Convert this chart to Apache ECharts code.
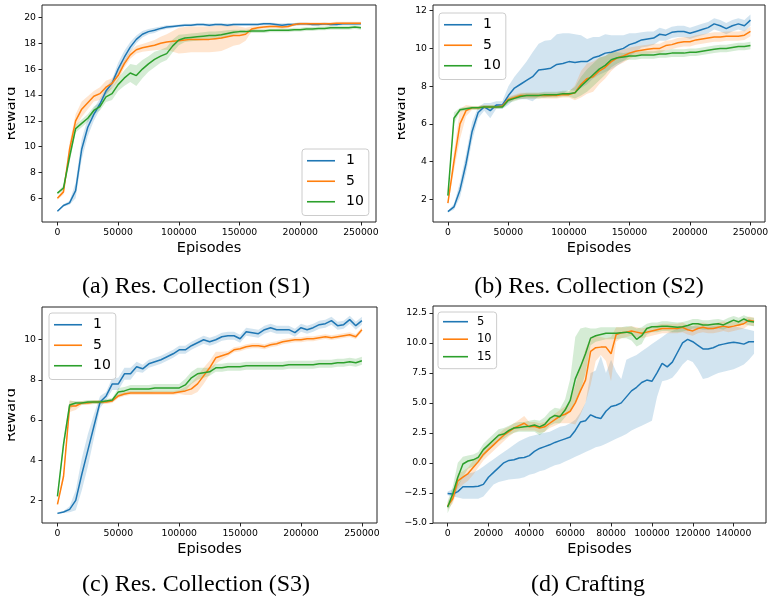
<!DOCTYPE html>
<html><head><meta charset="utf-8">
<script src="https://cdn.jsdelivr.net/npm/echarts@6.0.0/dist/echarts.min.js"></script>
<style>
html,body{margin:0;padding:0;background:#fff;width:769px;height:598px;overflow:hidden;}
.p{position:absolute;}
</style></head><body>
<div id="pa" class="p" style="left:0;top:0;width:385px;height:300px"></div>
<div id="pb" class="p" style="left:385px;top:0;width:384px;height:300px"></div>
<div id="pc" class="p" style="left:0;top:300px;width:385px;height:298px"></div>
<div id="pd" class="p" style="left:385px;top:300px;width:384px;height:298px"></div>
<script>
// ---------- episodes sampled ----------
const EP_ABC = [0,5000,10000,15000,20000,25000,30000,35000,40000,45000,50000,55000,60000,65000,70000,75000,80000,85000,90000,95000,100000,105000,110000,115000,120000,125000,130000,135000,140000,145000,150000,155000,160000,165000,170000,175000,180000,185000,190000,195000,200000,205000,210000,215000,220000,225000,230000,235000,240000,245000,250000];
const EP_D = [0,2500,5000,7500,10000,12500,15000,17500,20000,22500,25000,27500,30000,32500,35000,37500,40000,42500,45000,47500,50000,52500,55000,57500,60000,62500,65000,67500,70000,72500,75000,77500,80000,82500,85000,87500,90000,92500,95000,97500,100000,102500,105000,107500,110000,112500,115000,117500,120000,122500,125000,127500,130000,132500,135000,137500,140000,142500,145000,147500,150000];

// ---------- tick values / labels ----------
const XTICKS_ABC = [0,50000,100000,150000,200000,250000];
const XTICK_LABELS_ABC = ['0','50000','100000','150000','200000','250000'];
const XTICKS_D = [0,20000,40000,60000,80000,100000,120000,140000];
const XTICK_LABELS_D = ['0','20000','40000','60000','80000','100000','120000','140000'];
const YTICKS_A = [6,8,10,12,14,16,18,20];
const YTICK_LABELS_A = ['6','8','10','12','14','16','18','20'];
const YTICKS_B = [2,4,6,8,10,12];
const YTICK_LABELS_B = ['2','4','6','8','10','12'];
const YTICKS_C = [2,4,6,8,10];
const YTICK_LABELS_C = ['2','4','6','8','10'];
const YTICKS_D = [-5,-2.5,0,2.5,5,7.5,10,12.5];
const YTICK_LABELS_D = ['\u22125.0','\u22122.5','0.0','2.5','5.0','7.5','10.0','12.5'];

// ---------- legend names ----------
const NAMES_ABC = ['1','5','10'];
const NAMES_D = ['5','10','15'];
const CAPTIONS = ['(a) Res. Collection (S1)','(b) Res. Collection (S2)','(c) Res. Collection (S3)','(d) Crafting'];

// ---------- panel (a) ----------
const A1_MEAN = [5.0,5.45,5.65,6.6,9.8,11.5,12.5,13.3,14.3,14.9,16.0,16.9,17.7,18.3,18.7,18.9,19.0,19.15,19.25,19.3,19.35,19.4,19.4,19.45,19.45,19.4,19.45,19.45,19.4,19.45,19.45,19.45,19.45,19.45,19.5,19.5,19.45,19.4,19.45,19.45,19.5,19.5,19.45,19.45,19.5,19.45,19.45,19.5,19.5,19.5,19.5];
const A1_SPREAD = [0.05,0.1,0.15,0.6,0.8,0.7,0.5,0.4,0.3,0.3,0.5,0.5,0.4,0.3,0.25,0.2,0.2,0.15,0.15,0.12,0.1,0.1,0.1,0.1,0.1,0.12,0.1,0.1,0.12,0.1,0.1,0.1,0.1,0.1,0.1,0.1,0.12,0.15,0.12,0.1,0.1,0.1,0.1,0.1,0.1,0.1,0.1,0.1,0.1,0.1,0.1];
const A5_MEAN = [6.0,6.5,9.8,12.0,12.9,13.4,13.9,14.1,14.6,14.9,15.5,16.4,17.1,17.5,17.65,17.75,17.85,18.0,18.1,18.15,18.2,18.25,18.3,18.3,18.3,18.3,18.35,18.4,18.5,18.6,18.6,18.7,19.1,19.2,19.25,19.3,19.3,19.25,19.3,19.45,19.5,19.5,19.5,19.5,19.5,19.5,19.55,19.55,19.55,19.55,19.55];
const A5_SPREAD = [0.1,0.2,0.5,0.5,0.6,0.5,0.4,0.5,0.5,0.4,0.4,0.3,0.3,0.3,0.3,0.35,0.4,0.5,0.6,0.8,1.0,1.0,1.0,1.0,1.0,1.0,1.0,1.0,0.9,0.8,0.7,0.5,0.2,0.12,0.12,0.12,0.12,0.12,0.12,0.12,0.12,0.12,0.12,0.12,0.12,0.12,0.12,0.12,0.12,0.12,0.12];
const A10_MEAN = [6.4,6.8,9.2,11.4,11.8,12.2,12.8,13.1,13.85,14.1,14.8,15.3,15.7,15.5,16.0,16.4,16.75,17.0,17.2,17.8,18.25,18.4,18.45,18.5,18.55,18.6,18.6,18.65,18.75,18.85,18.9,18.9,18.95,18.95,18.95,19.0,19.0,19.0,19.0,19.05,19.05,19.1,19.1,19.15,19.15,19.2,19.2,19.2,19.2,19.25,19.2];
const A10_SPREAD = [0.1,0.2,0.4,0.3,0.3,0.3,0.3,0.3,0.4,0.5,0.5,0.6,0.7,0.8,0.7,0.6,0.6,0.5,0.5,0.5,0.4,0.3,0.3,0.3,0.3,0.3,0.3,0.3,0.25,0.2,0.15,0.15,0.15,0.15,0.15,0.15,0.15,0.15,0.15,0.15,0.15,0.15,0.15,0.15,0.15,0.15,0.15,0.15,0.15,0.15,0.15];

// ---------- panel (b) ----------
const B1_MEAN = [1.35,1.6,2.5,3.9,5.6,6.6,6.9,6.7,7.0,7.0,7.5,7.9,8.1,8.3,8.5,8.85,8.9,8.95,9.15,9.2,9.3,9.25,9.3,9.3,9.5,9.6,9.75,9.8,9.9,10.0,10.2,10.3,10.45,10.5,10.55,10.75,10.7,10.85,10.9,10.9,10.8,10.9,11.0,11.1,11.3,11.2,11.05,11.2,11.3,11.2,11.5];
const B1_SPREAD = [0.05,0.15,0.4,0.5,0.5,0.3,0.2,0.4,0.2,0.2,0.5,0.6,0.8,1.0,1.3,1.4,1.5,1.5,1.6,1.6,1.5,1.5,1.4,1.2,1.1,1.0,1.0,0.9,0.8,0.7,0.6,0.5,0.4,0.4,0.35,0.35,0.3,0.3,0.3,0.3,0.3,0.3,0.3,0.3,0.3,0.3,0.3,0.3,0.3,0.3,0.3];
const B5_MEAN = [1.8,4.0,6.0,6.7,6.85,6.85,6.9,6.9,6.9,6.95,7.3,7.4,7.5,7.5,7.5,7.5,7.5,7.5,7.5,7.55,7.55,7.65,8.1,8.4,8.5,8.8,9.0,9.3,9.5,9.6,9.75,9.85,9.9,9.95,10.0,10.0,10.15,10.2,10.3,10.35,10.35,10.45,10.5,10.55,10.6,10.6,10.65,10.65,10.65,10.7,10.9];
const B5_SPREAD = [0.05,0.5,0.8,0.3,0.1,0.1,0.1,0.1,0.1,0.1,0.15,0.15,0.15,0.15,0.15,0.15,0.15,0.15,0.15,0.15,0.15,0.4,0.7,0.8,0.8,0.7,0.6,0.5,0.4,0.35,0.3,0.25,0.25,0.25,0.25,0.25,0.25,0.25,0.25,0.25,0.25,0.25,0.25,0.25,0.25,0.25,0.25,0.25,0.25,0.25,0.25];
const B10_MEAN = [2.2,6.3,6.75,6.8,6.85,6.85,6.9,6.9,6.9,6.9,7.25,7.35,7.45,7.5,7.5,7.5,7.55,7.55,7.55,7.6,7.6,7.65,8.0,8.3,8.6,8.9,9.1,9.4,9.5,9.55,9.6,9.6,9.65,9.65,9.65,9.7,9.7,9.75,9.75,9.75,9.8,9.8,9.85,9.9,9.95,10.0,10.0,10.05,10.1,10.1,10.15];
const B10_SPREAD = [0.05,0.3,0.1,0.1,0.1,0.1,0.1,0.1,0.1,0.1,0.15,0.15,0.15,0.15,0.15,0.15,0.15,0.15,0.15,0.15,0.15,0.3,0.5,0.6,0.6,0.6,0.5,0.4,0.3,0.2,0.2,0.2,0.2,0.2,0.2,0.2,0.2,0.2,0.2,0.2,0.2,0.2,0.2,0.2,0.2,0.2,0.2,0.2,0.2,0.2,0.2];

// ---------- panel (c) ----------
const C1_MEAN = [1.35,1.42,1.55,2.0,3.3,4.5,5.7,6.9,7.2,7.8,7.8,8.3,8.3,8.65,8.55,8.8,8.9,9.0,9.15,9.3,9.5,9.5,9.7,9.85,10.0,9.9,10.0,10.15,10.2,10.2,10.05,10.4,10.35,10.3,10.5,10.6,10.5,10.5,10.5,10.35,10.6,10.5,10.6,10.75,10.8,10.95,10.7,10.75,11.0,10.7,10.95];
const C1_SPREAD = [0.05,0.05,0.15,0.5,0.8,0.8,0.6,0.3,0.2,0.3,0.3,0.3,0.3,0.25,0.2,0.2,0.2,0.2,0.2,0.2,0.2,0.2,0.2,0.2,0.2,0.2,0.2,0.2,0.2,0.2,0.2,0.2,0.2,0.2,0.2,0.2,0.2,0.2,0.2,0.2,0.2,0.2,0.2,0.2,0.2,0.2,0.2,0.2,0.2,0.2,0.2];
const C5_MEAN = [1.8,3.2,6.7,6.7,6.85,6.85,6.9,6.9,6.9,6.95,7.2,7.3,7.35,7.35,7.35,7.35,7.35,7.35,7.35,7.35,7.4,7.45,7.55,7.8,8.2,8.6,9.1,9.2,9.3,9.5,9.55,9.65,9.7,9.7,9.65,9.75,9.8,9.9,9.95,10.0,10.0,10.05,10.05,10.1,10.15,10.1,10.15,10.2,10.25,10.15,10.5];
const C5_SPREAD = [0.05,0.2,0.3,0.2,0.1,0.1,0.1,0.1,0.1,0.1,0.1,0.1,0.1,0.1,0.1,0.1,0.1,0.1,0.1,0.1,0.1,0.2,0.3,0.4,0.4,0.35,0.3,0.2,0.12,0.12,0.12,0.12,0.12,0.12,0.12,0.12,0.12,0.12,0.12,0.12,0.12,0.12,0.12,0.12,0.12,0.12,0.12,0.12,0.12,0.12,0.12];
const C10_MEAN = [2.2,4.8,6.75,6.85,6.85,6.9,6.9,6.9,6.95,7.0,7.4,7.45,7.55,7.55,7.55,7.55,7.6,7.6,7.6,7.6,7.6,7.75,8.1,8.3,8.35,8.4,8.6,8.6,8.65,8.65,8.65,8.7,8.7,8.7,8.7,8.7,8.7,8.7,8.75,8.75,8.75,8.75,8.75,8.8,8.8,8.8,8.85,8.85,8.9,8.85,8.95];
const C10_SPREAD = [0.05,0.3,0.2,0.1,0.1,0.1,0.1,0.1,0.1,0.1,0.2,0.2,0.2,0.2,0.2,0.2,0.2,0.2,0.2,0.2,0.2,0.3,0.3,0.3,0.25,0.2,0.2,0.2,0.2,0.2,0.2,0.2,0.2,0.2,0.2,0.2,0.2,0.2,0.2,0.2,0.2,0.2,0.2,0.2,0.2,0.2,0.2,0.2,0.2,0.2,0.2];

// ---------- panel (d) ----------
const D5_MEAN = [-2.55,-2.6,-2.4,-2.0,-2.0,-2.0,-1.95,-1.8,-1.2,-0.8,-0.4,0.0,0.2,0.25,0.4,0.45,0.6,0.95,1.2,1.35,1.5,1.7,1.85,2.0,2.15,2.7,3.4,3.5,4.0,3.8,3.7,4.3,4.7,4.8,5.0,5.5,6.0,6.3,6.7,6.9,6.8,7.5,8.3,8.0,8.4,9.2,10.0,10.3,10.1,9.8,9.5,9.5,9.6,9.8,9.9,10.0,10.05,10.0,9.9,10.1,10.1];
const D5_LO = [-2.7,-2.8,-2.9,-3.0,-3.0,-3.0,-3.0,-2.8,-2.3,-1.8,-1.6,-1.5,-1.4,-1.35,-1.3,-1.2,-1.0,-0.9,-0.7,-0.6,-0.4,-0.2,-0.1,0.1,0.3,0.5,0.7,0.9,1.1,1.3,1.4,1.6,1.8,2.0,2.2,2.4,2.7,2.9,3.1,3.3,3.5,5.5,6.8,6.9,7.1,7.6,8.2,8.6,8.4,7.8,7.0,7.1,7.3,7.5,7.6,7.7,7.8,8.0,8.2,8.6,9.1];
const D5_HI = [-2.4,-2.2,-1.8,-1.2,-0.9,-0.8,-0.6,-0.3,0.0,0.3,0.6,0.9,1.2,1.5,1.8,2.0,2.2,2.3,2.4,2.5,2.6,2.8,3.0,3.1,3.3,3.6,4.2,5.0,7.5,7.7,8.9,7.5,8.6,7.6,7.0,8.6,8.8,9.0,9.3,9.6,9.9,10.2,10.5,10.8,11.0,11.2,11.3,11.4,11.4,11.4,11.3,11.3,11.4,11.4,11.4,11.4,11.4,11.3,11.2,11.1,11.0];
const D10_MEAN = [-3.6,-3.0,-1.5,-1.2,-0.9,-0.4,0.1,0.7,1.1,1.5,1.9,2.3,2.6,2.9,3.1,3.3,3.0,3.05,2.9,3.0,3.3,3.6,3.9,4.05,4.3,5.0,6.0,6.9,9.3,9.6,9.65,9.65,9.1,10.7,10.85,10.9,11.0,10.9,10.8,10.9,11.0,11.1,11.2,11.2,11.2,11.2,11.3,11.1,11.0,11.2,11.3,11.2,11.2,11.3,11.4,11.3,11.4,11.5,11.6,11.9,11.8];
const D10_LO = [-3.9,-3.4,-2.2,-1.8,-1.5,-1.0,-0.4,0.2,0.6,1.0,1.4,1.8,2.2,2.5,2.7,2.7,2.7,2.7,2.5,2.6,2.9,3.1,3.3,3.3,3.3,3.2,4.0,5.0,6.5,8.5,9.0,8.5,6.8,10.1,10.4,10.5,10.6,10.5,10.4,10.5,10.6,10.7,10.8,10.8,10.8,10.8,10.9,10.7,10.6,10.8,10.9,10.8,10.8,10.9,11.0,10.9,11.0,11.1,11.2,11.5,11.4];
const D10_HI = [-3.3,-2.5,-0.9,-0.7,-0.4,0.2,0.6,1.2,1.6,2.0,2.4,2.8,3.0,3.3,3.6,3.9,3.4,3.4,3.3,3.4,3.8,4.1,4.4,4.7,5.2,6.5,8.0,9.5,10.5,10.6,10.5,10.4,10.5,11.3,11.3,11.3,11.4,11.3,11.2,11.3,11.4,11.5,11.6,11.6,11.6,11.6,11.7,11.5,11.4,11.6,11.7,11.6,11.6,11.7,11.8,11.7,11.8,11.9,12.0,12.2,12.1];
const D15_MEAN = [-3.7,-2.6,-1.2,-0.1,0.15,0.25,0.45,1.1,1.5,1.9,2.3,2.4,2.7,2.9,2.95,3.0,3.05,3.15,3.0,3.2,3.7,3.95,3.85,4.4,5.2,7.0,8.0,9.1,10.4,10.6,10.7,10.8,10.8,10.8,10.85,10.9,10.8,10.3,10.6,11.2,11.35,11.35,11.4,11.4,11.35,11.3,11.35,11.45,11.6,11.6,11.5,11.5,11.55,11.6,11.5,11.7,11.9,11.75,12.0,11.8,11.75];
const D15_LO = [-4.2,-3.2,-2.0,-1.2,-0.5,-0.3,0.0,0.5,1.0,1.4,1.8,2.0,2.3,2.5,2.6,2.6,2.6,2.6,2.3,2.6,3.1,3.3,3.3,3.8,4.3,5.0,6.0,7.5,9.8,10.1,10.2,10.3,10.3,10.3,10.4,10.4,10.2,9.7,9.9,10.7,10.9,10.9,11.0,11.0,10.9,10.9,10.95,11.05,11.2,11.2,11.1,11.1,11.15,11.2,11.1,11.3,11.5,11.4,11.6,11.45,11.4];
const D15_HI = [-3.2,-2.0,0.0,0.5,0.6,0.7,0.9,1.6,2.0,2.4,2.8,2.9,3.1,3.3,3.4,3.4,3.5,3.6,3.5,3.8,4.3,4.6,4.5,5.3,7.0,10.5,11.2,11.3,11.2,11.2,11.3,11.3,11.3,11.3,11.3,11.4,11.4,11.2,11.3,11.6,11.7,11.7,11.8,11.8,11.75,11.7,11.75,11.85,12.0,12.0,11.9,11.9,11.95,12.0,11.9,12.1,12.25,12.1,12.3,12.15,12.1];

// ---------- colours ----------
const BLUE = '#1f77b4', ORANGE = '#ff7f0e', GREEN = '#2ca02c';
const BAND_ALPHA = 0.2;

function fromSpread(mean, spread){
  return { lo: mean.map((m,i)=>m-spread[i]), hi: mean.map((m,i)=>m+spread[i]) };
}
function grp(name, color, mean, lo, hi){ return {name, color, mean, lo, hi}; }
function spreadGrp(name, color, mean, spread){ const b = fromSpread(mean, spread); return grp(name, color, mean, b.lo, b.hi); }
function rgba(hex, a){
  const n = parseInt(hex.slice(1), 16);
  return 'rgba(' + ((n>>16)&255) + ',' + ((n>>8)&255) + ',' + (n&255) + ',' + a + ')';
}

const FONT = 'DejaVu Sans';

function labelFmt(vals, labels){
  return function(v){ for (let i=0;i<vals.length;i++){ if (Math.abs(vals[i]-v) < 1e-6) return labels[i]; } return ''; };
}

function bandSeries(xs, g){
  // one polygon per band: upper edge forward, lower edge backward, through the axes' scales
  const pts = xs.map((x,k)=>[x, g.hi[k]]).concat(xs.map((x,k)=>[x, g.lo[k]]).reverse());
  return {
    type:'custom', silent:true, z:2, animation:false, clip:true,
    data: pts, encode:{x:0, y:1},
    renderItem: function(params, api){
      if (params.dataIndex !== 0) return null;
      const poly = pts.map(p => api.coord(p));
      return {type:'polygon', shape:{points: poly}, style:{fill: rgba(g.color, BAND_ALPHA), stroke:'none'}};
    }
  };
}

function build(cfg){
  const chart = echarts.init(document.getElementById(cfg.id), null, {renderer:'canvas'});
  const series = [];
  cfg.groups.forEach((g) => series.push(bandSeries(cfg.x, g)));
  cfg.groups.forEach((g) => {
    series.push({type:'line', name:g.name, symbol:'none', silent:true,
      data: cfg.x.map((x,k)=>[x, g.mean[k]]),
      lineStyle:{color:g.color, width:1.5}, itemStyle:{color:g.color}, z:3, animation:false});
  });
  const graphic = [
    {type:'text', x:cfg.cap.x, y:cfg.cap.y, style:{text:cfg.cap.text, fill:'#000', font:'24px "Liberation Serif"', textAlign:'center', textVerticalAlign:'middle'}, z:10}
  ];
  if (cfg.clipW) graphic.push({type:'rect', shape:{x:0,y:0,width:cfg.clipW,height:300}, style:{fill:'#fff'}, z:100});
  chart.setOption({
    animation:false,
    grid:{left:cfg.grid.left, top:cfg.grid.top, width:cfg.grid.width, height:cfg.grid.height, containLabel:false, outerBoundsMode:'none',
      show:true, borderColor:'#222', borderWidth:1, backgroundColor:'transparent'},
    xAxis:{type:'value', min:cfg.xMin, max:cfg.xMax,
      name:'Episodes', nameLocation:'middle', nameGap:19, nameMoveOverlap:false,
      nameTextStyle:{fontFamily:FONT, fontSize:14.5, color:'#000'},
      axisLine:{show:false, onZero:false}, splitLine:{show:false},
      axisTick:{show:true, customValues:cfg.xt, length:3.5, lineStyle:{color:'#222', width:1}},
      axisLabel:{customValues:cfg.xt, formatter:labelFmt(cfg.xt, cfg.xl), fontFamily:FONT, fontSize:9.3, color:'#000', margin:6.5, hideOverlap:false}},
    yAxis:{type:'value', min:cfg.yMin, max:cfg.yMax,
      name:cfg.yName, nameLocation:'middle', nameGap:cfg.yNameGap || 22, nameMoveOverlap:false,
      nameTextStyle:{fontFamily:FONT, fontSize:14.5, color:'#000'},
      axisLine:{show:false, onZero:false}, splitLine:{show:false},
      axisTick:{show:true, customValues:cfg.yt, length:3.5, lineStyle:{color:'#222', width:1}},
      axisLabel:{customValues:cfg.yt, formatter:labelFmt(cfg.yt, cfg.yl), fontFamily:FONT, fontSize:9.3, color:'#000', margin:6, hideOverlap:false}},
    legend:Object.assign({orient:'vertical', data:cfg.groups.map(g=>g.name), selectedMode:false, icon:'rect',
      borderColor:'#cccccc', borderWidth:1, borderRadius:3, backgroundColor:'rgba(255,255,255,0.8)'}, cfg.legend),
    graphic: graphic,
    series: series
  });
}

const LEG_ABC = {itemWidth:28, itemHeight:1.6, itemGap:6, padding:[4.5,5,6.5,5],
  textStyle:{fontFamily:FONT, fontSize:14, lineHeight:14.5, color:'#000', padding:[0,0,0,6]}};

build({id:'pa', x:EP_ABC, grid:{left:42, top:5, width:334, height:217}, xMin:-12700, xMax:262400, yMin:4.17, yMax:20.96,
  xt:XTICKS_ABC, xl:XTICK_LABELS_ABC, yt:YTICKS_A, yl:YTICK_LABELS_A, yName:'Reward', yNameGap:23, clipW:8,
  legend:Object.assign({left:302, top:149}, LEG_ABC),
  cap:{text:CAPTIONS[0], x:196, y:286.6},
  groups:[spreadGrp(NAMES_ABC[0], BLUE, A1_MEAN, A1_SPREAD), spreadGrp(NAMES_ABC[1], ORANGE, A5_MEAN, A5_SPREAD), spreadGrp(NAMES_ABC[2], GREEN, A10_MEAN, A10_SPREAD)]});

build({id:'pb', x:EP_ABC, grid:{left:48, top:5, width:332, height:217}, xMin:-12300, xMax:262000, yMin:0.80, yMax:12.30,
  xt:XTICKS_ABC, xl:XTICK_LABELS_ABC, yt:YTICKS_B, yl:YTICK_LABELS_B, yName:'Reward', yNameGap:24, clipW:13,
  legend:Object.assign({left:54, top:13}, LEG_ABC),
  cap:{text:CAPTIONS[1], x:204, y:286.6},
  groups:[spreadGrp(NAMES_ABC[0], BLUE, B1_MEAN, B1_SPREAD), spreadGrp(NAMES_ABC[1], ORANGE, B5_MEAN, B5_SPREAD), spreadGrp(NAMES_ABC[2], GREEN, B10_MEAN, B10_SPREAD)]});

build({id:'pc', x:EP_ABC, grid:{left:42, top:7, width:335, height:216}, xMin:-12700, xMax:262400, yMin:0.87, yMax:11.63,
  xt:XTICKS_ABC, xl:XTICK_LABELS_ABC, yt:YTICKS_C, yl:YTICK_LABELS_C, yName:'Reward', yNameGap:23, clipW:8,
  legend:Object.assign({left:49, top:13}, LEG_ABC),
  cap:{text:CAPTIONS[2], x:196, y:284.6},
  groups:[spreadGrp(NAMES_ABC[0], BLUE, C1_MEAN, C1_SPREAD), spreadGrp(NAMES_ABC[1], ORANGE, C5_MEAN, C5_SPREAD), spreadGrp(NAMES_ABC[2], GREEN, C10_MEAN, C10_SPREAD)]});

build({id:'pd', x:EP_D, grid:{left:48, top:6, width:333, height:217}, xMin:-7150, xMax:155850, yMin:-5.02, yMax:13.08,
  xt:XTICKS_D, xl:XTICK_LABELS_D, yt:YTICKS_D, yl:YTICK_LABELS_D, yName:'', clipW:0,
  legend:{left:53, top:12, itemWidth:25, itemHeight:1.6, itemGap:5.5, padding:[3.7,5,6,5],
    textStyle:{fontFamily:FONT, fontSize:11.5, lineHeight:12, color:'#000', padding:[0,0,0,4]}},
  cap:{text:CAPTIONS[3], x:203, y:284.6},
  groups:[grp(NAMES_D[0], BLUE, D5_MEAN, D5_LO, D5_HI), grp(NAMES_D[1], ORANGE, D10_MEAN, D10_LO, D10_HI), grp(NAMES_D[2], GREEN, D15_MEAN, D15_LO, D15_HI)]});
</script>
</body></html>
